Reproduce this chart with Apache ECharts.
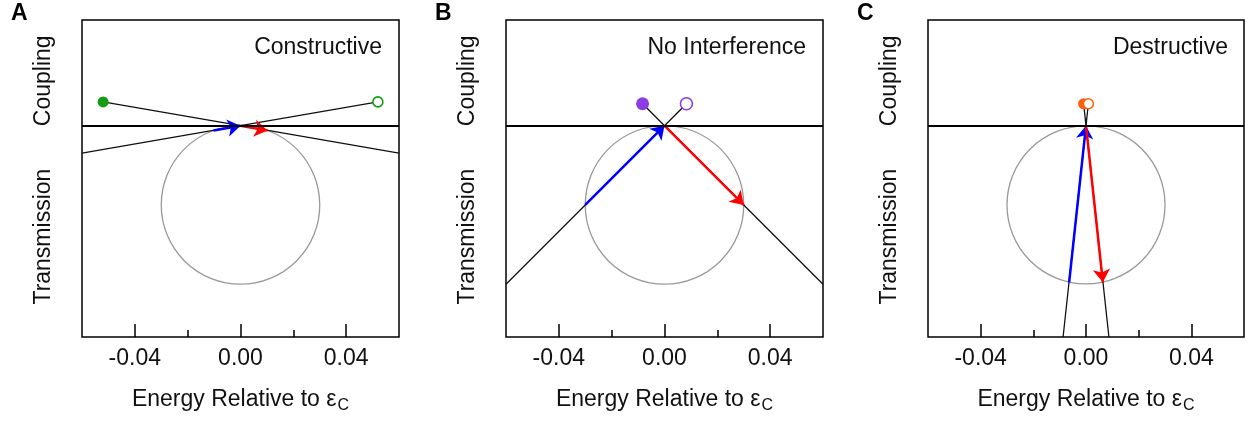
<!DOCTYPE html>
<html>
<head>
<meta charset="utf-8">
<script src="https://cdn.jsdelivr.net/npm/echarts@6/dist/echarts.min.js"></script>
<style>
  html, body { margin: 0; padding: 0; background: #fff; }
  #chart { width: 1250px; height: 421px; }
</style>
</head>
<body>
<div id="chart"></div>
<script>
// tick labels / axes
const xMajorTicks = [-0.04, 0, 0.04];
const xMinorTicks = [-0.02, 0.02];
const yLabelValues = [0.017, -0.042];
const yLabels = ["Coupling", "Transmission"];

// panels
const panelLetters = ["A", "B", "C"];
const panelTitles = ["Constructive", "No Interference", "Destructive"];
const dotColors = ["#149c14", "#8a3de2", "#ff5f0a"];

// coupling points (filled / open) and where their lines leave the box
const filledDots = [[-0.052, 0.009], [-0.0083, 0.0083], [-0.0009, 0.0083]];
const openDots = [[0.052, 0.009], [0.0083, 0.0083], [0.0009, 0.0083]];
const filledLineEnds = [[0.06, -0.0104], [0.06, -0.06], [0.0087, -0.08]];
const openLineEnds = [[-0.06, -0.0104], [-0.06, -0.06], [-0.0087, -0.08]];

// transmission arrows: blue runs into the origin, red runs out of it
const origin = [0, 0];
const blueStarts = [[-0.0102, -0.0018], [-0.03, -0.03], [-0.0064, -0.0593]];
const redEnds = [[0.0102, -0.0018], [0.03, -0.03], [0.0064, -0.0593]];

// unit circle of the transmission plane: [cx, cy, r]
const circle = [0, -0.03, 0.03];

const gridLefts = [82, 506, 928];
const font = "Liberation Sans, Arial, sans-serif";

function yLabelFor(v) {
  // nearest of the two label positions
  return Math.abs(v - yLabelValues[0]) < Math.abs(v - yLabelValues[1]) ? yLabels[0] : yLabels[1];
}

const chart = echarts.init(document.getElementById("chart"));

const grid = [], xAxis = [], yAxis = [], series = [], title = [];

panelLetters.forEach((letter, i) => {
  grid.push({
    left: gridLefts[i], top: 20, width: i === 2 ? 316 : 317, height: 317,
    show: true, borderColor: "#000", borderWidth: 1.5, backgroundColor: "transparent"
  });

  xAxis.push({
    type: "value", gridIndex: i, min: -0.06, max: 0.06, position: "bottom",
    axisLine: { show: false, onZero: false },
    splitLine: { show: false },
    axisTick: { show: true, inside: true, length: 13, customValues: xMajorTicks,
      lineStyle: { color: "#000", width: 1.5 } },
    axisLabel: { customValues: xMajorTicks, margin: 10, color: "#111",
      fontSize: 23, fontFamily: font, formatter: v => v.toFixed(2) },
    name: "Energy Relative to ε{s|C}",
    nameLocation: "middle", nameGap: 49,
    nameTextStyle: { color: "#111", fontSize: 23, fontFamily: font,
      rich: { s: { fontSize: 16, fontFamily: font, color: "#111", padding: [12, 0, 0, 1] } } }
  });
  xAxis.push({
    type: "value", gridIndex: i, min: -0.06, max: 0.06, position: "bottom",
    axisLine: { show: false, onZero: false },
    splitLine: { show: false },
    axisTick: { show: true, inside: true, length: 7, customValues: xMinorTicks,
      lineStyle: { color: "#000", width: 1.5 } },
    axisLabel: { show: false }
  });

  yAxis.push({
    type: "value", gridIndex: i, min: -0.08, max: 0.04,
    axisLine: { show: false, onZero: false }, axisTick: { show: false }, splitLine: { show: false },
    axisLabel: { show: true, customValues: yLabelValues, rotate: 90, margin: 27, color: "#111",
      fontSize: 23, fontFamily: font, formatter: v => yLabelFor(v) }
  });

  title.push({
    text: letter, left: gridLefts[i] - 71, top: 2, padding: 0,
    textStyle: { fontSize: 23, fontWeight: "bold", color: "#000", fontFamily: font }
  });
  title.push({
    text: panelTitles[i], right: [868, 444, 22][i], top: 36, padding: 0,
    textStyle: { fontSize: 23, fontWeight: "normal", color: "#111", fontFamily: font }
  });

  const xi = i * 2;

  series.push({
    type: "custom", xAxisIndex: xi, yAxisIndex: i, silent: true, z: 1,
    data: [circle],
    renderItem: (params, api) => {
      const c = api.coord([api.value(0), api.value(1)]);
      const r = api.size([api.value(2), 0])[0];
      return { type: "circle", shape: { cx: c[0], cy: c[1], r: r },
        style: { fill: "none", stroke: "#999", lineWidth: 1.3 } };
    }
  });

  [[filledDots[i], origin, filledLineEnds[i]], [openDots[i], origin, openLineEnds[i]]]
    .forEach((pts, k) => {
      series.push({
        type: "line", xAxisIndex: xi, yAxisIndex: i, data: pts, symbol: "none",
        silent: true, clip: true, z: 2, animation: false,
        lineStyle: { color: "#111", width: 1.3 },
        markLine: k === 0 ? {
          silent: true, symbol: "none", animation: false, label: { show: false },
          lineStyle: { color: "#000", width: 1.8, type: "solid" },
          data: [{ yAxis: 0 }]
        } : undefined
      });
    });

  series.push({
    type: "lines", coordinateSystem: "cartesian2d", xAxisIndex: xi, yAxisIndex: i,
    silent: true, z: 3, animation: false,
    symbol: ["none", "arrow"], symbolSize: [9, 13],
    data: [
      { coords: [blueStarts[i], origin], lineStyle: { color: "#0000ff" } },
      { coords: [origin, redEnds[i]], lineStyle: { color: "#ff0000" } }
    ],
    lineStyle: { width: 2.5, opacity: 1, curveness: 0 }
  });

  series.push({
    type: "scatter", xAxisIndex: xi, yAxisIndex: i, silent: true, z: 4, animation: false,
    data: [filledDots[i]], symbol: "circle", symbolSize: i === 1 ? 13 : 11,
    itemStyle: { color: dotColors[i], opacity: 1 }
  });
  series.push({
    type: "scatter", xAxisIndex: xi, yAxisIndex: i, silent: true, z: 4, animation: false,
    data: [openDots[i]], symbol: "circle", symbolSize: i === 1 ? 12 : 10,
    itemStyle: { color: "#fff", borderColor: dotColors[i], borderWidth: 1.6, opacity: 1 }
  });
});

chart.setOption({ animation: false, title, grid, xAxis, yAxis, series });
</script>
</body>
</html>
